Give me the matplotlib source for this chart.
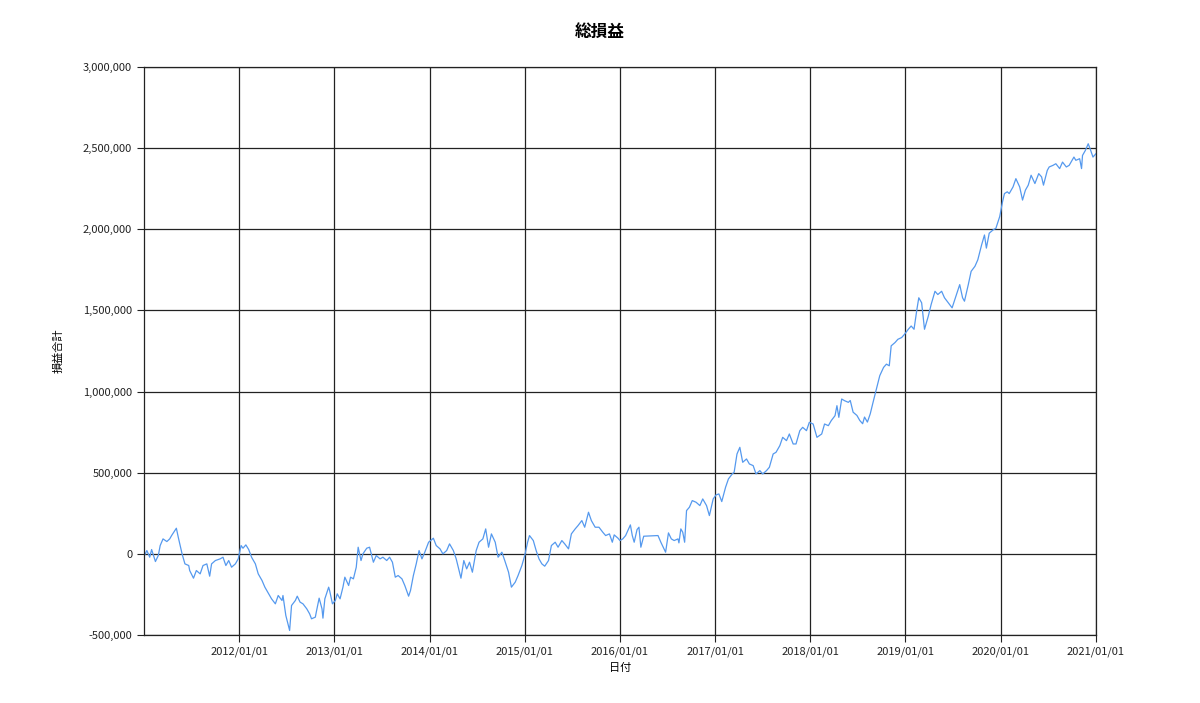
import numpy as np
import matplotlib
matplotlib.use("Agg")
import matplotlib.pyplot as plt
import matplotlib.dates as mdates
from matplotlib.ticker import FuncFormatter, FixedLocator
from datetime import datetime

plt.rcParams['font.family'] = ['Noto Sans CJK JP', 'DejaVu Sans']

# 日付 (decimal year) / 損益合計 (yen)
years = [
    2011.00, 2011.03, 2011.06, 2011.08, 2011.12, 2011.15, 2011.17, 2011.20, 2011.24, 2011.27,
    2011.29, 2011.34, 2011.36, 2011.40, 2011.43, 2011.47, 2011.48, 2011.52, 2011.55, 2011.59,
    2011.62, 2011.66, 2011.69, 2011.71, 2011.75, 2011.80, 2011.83, 2011.86, 2011.89, 2011.92,
    2011.96, 2011.99, 2012.02, 2012.04, 2012.07, 2012.10, 2012.13, 2012.17, 2012.20, 2012.24,
    2012.27, 2012.31, 2012.34, 2012.38, 2012.41, 2012.45, 2012.46, 2012.49, 2012.53, 2012.55,
    2012.59, 2012.61, 2012.64, 2012.67, 2012.71, 2012.74, 2012.76, 2012.80, 2012.81, 2012.84,
    2012.87, 2012.88, 2012.90, 2012.94, 2012.95, 2012.98, 2013.01, 2013.03, 2013.06, 2013.09,
    2013.11, 2013.15, 2013.17, 2013.20, 2013.23, 2013.25, 2013.28, 2013.30, 2013.34,
    2013.37, 2013.41, 2013.44, 2013.48, 2013.51, 2013.55, 2013.58, 2013.61, 2013.64, 2013.67,
    2013.71, 2013.74, 2013.78, 2013.80, 2013.83, 2013.86, 2013.89, 2013.92, 2013.95, 2013.99,
    2014.04, 2014.07, 2014.11, 2014.14, 2014.18, 2014.21, 2014.25, 2014.28, 2014.33, 2014.36,
    2014.39, 2014.42, 2014.45, 2014.49, 2014.52, 2014.56, 2014.59, 2014.62, 2014.65, 2014.69,
    2014.72, 2014.76, 2014.79, 2014.83, 2014.86, 2014.90, 2014.93, 2014.97, 2015.00, 2015.03,
    2015.05, 2015.09, 2015.12, 2015.15, 2015.18, 2015.21, 2015.25, 2015.28, 2015.32, 2015.35,
    2015.39, 2015.42, 2015.46, 2015.49, 2015.53, 2015.56, 2015.60, 2015.63, 2015.67, 2015.70,
    2015.74,
    2015.78, 2015.82, 2015.85, 2015.89, 2015.92, 2015.94, 2015.98, 2016.00, 2016.03, 2016.06,
    2016.11, 2016.13, 2016.15, 2016.18, 2016.20, 2016.22, 2016.25, 2016.40, 2016.43, 2016.48,
    2016.51, 2016.54, 2016.57, 2016.61, 2016.62, 2016.64, 2016.66, 2016.68, 2016.70, 2016.73,
    2016.76, 2016.80, 2016.84, 2016.87, 2016.91, 2016.94, 2016.98, 2017.01, 2017.04, 2017.07,
    2017.11, 2017.14, 2017.18, 2017.20, 2017.23, 2017.26, 2017.29, 2017.33, 2017.36, 2017.40,
    2017.43, 2017.47, 2017.50, 2017.54, 2017.57, 2017.61, 2017.64, 2017.68, 2017.71, 2017.75,
    2017.78, 2017.82, 2017.85, 2017.89, 2017.92, 2017.96, 2017.99, 2018.03, 2018.07, 2018.12,
    2018.15, 2018.19, 2018.22, 2018.26, 2018.28, 2018.30, 2018.33, 2018.36, 2018.40,
    2018.42, 2018.45, 2018.49, 2018.52, 2018.55, 2018.57, 2018.60, 2018.63, 2018.66, 2018.70,
    2018.73, 2018.77, 2018.80, 2018.83, 2018.85, 2018.89, 2018.92, 2018.96, 2018.99, 2019.03,
    2019.06, 2019.09, 2019.12, 2019.14, 2019.17, 2019.20, 2019.24, 2019.27, 2019.31, 2019.34,
    2019.38, 2019.41, 2019.45, 2019.49, 2019.53, 2019.57, 2019.60, 2019.62, 2019.66, 2019.69,
    2019.73, 2019.76, 2019.80, 2019.83, 2019.85, 2019.88, 2019.92, 2019.95, 2019.99, 2020.02,
    2020.04, 2020.07, 2020.09, 2020.13, 2020.16, 2020.20, 2020.23, 2020.26, 2020.29, 2020.32,
    2020.36, 2020.40, 2020.43, 2020.45, 2020.49, 2020.51, 2020.55, 2020.58, 2020.62, 2020.65,
    2020.69, 2020.72, 2020.77, 2020.79, 2020.83, 2020.85, 2020.86, 2020.89, 2020.92, 2020.94,
    2020.97, 2021.00,
]
pnl = [
    -15000, 20500, -20500, 26700, -47200, -10300, 51300, 92300, 75900, 92300,
    112900, 158000, 102600, 0, -61600, -71800, -102600, -149800, -102600, -123100,
    -71800, -61600, -137500, -61600, -41000, -30800, -20500, -71800, -41000, -82100,
    -61600, -30800, 51300, 34900, 55400, 26700, -20500, -61600, -123100, -164200,
    -205200, -246200, -277000, -307800, -256500, -287300, -256500, -379600, -472000, -318100,
    -287300, -260600, -297500, -307800, -338600, -369400, -400100, -389900, -359100, -272900,
    -338600, -396000, -277000, -205200, -225700, -307800, -287300, -246200, -277000, -205200,
    -143600, -194900, -143600, -153900, -82100, 41000, -41000, 0, 34900,
    41000, -51300, -10300, -30800, -20500, -41000, -20500, -51300, -143600, -133400,
    -153900, -194900, -260600, -225700, -133400, -61600, 20500, -30800, 10300, 71800,
    96400, 51300, 30800, 0, 20500, 61600, 20500, -30800, -149800, -41000,
    -92300, -51300, -112900, 20500, 71800, 92300, 153900, 41000, 123100, 71800,
    -20500, 10300, -41000, -112900, -205200, -174400, -133400, -71800, -10300, 71800,
    112900, 82100, 20500, -30800, -61600, -75900, -41000, 51300, 71800, 41000,
    82100, 61600, 30800, 123100, 153900, 174400, 205200, 164200, 256500, 205200,
    164200,
    164200, 133400, 112900, 123100, 71800, 117000, 96400, 82100, 92300, 112900,
    178500, 112900, 71800, 149800, 164200, 41000, 108800, 112900, 71800, 10300,
    129300, 92300, 82100, 92300, 67700, 153900, 133400, 71800, 266800, 287300,
    328300, 318100, 297500, 338600, 297500, 236000, 338600, 363200, 369400, 322200,
    410400, 461700, 492500, 502700, 615600, 656600, 564300, 584800, 554000, 543800,
    492500, 513000, 492500, 513000, 533500, 615600, 625900, 666900, 718200, 697700,
    738700, 677200, 677200, 759200, 779800, 759200, 810500, 800300, 718200, 738700,
    800300, 790000, 820800, 851600, 913100, 841300, 954200, 943900, 933700,
    945000, 873000, 853000, 822000, 802000, 843000, 812000, 863000, 935000, 1027000,
    1098000, 1149000, 1169000, 1159000, 1282000, 1302000, 1322000, 1333000, 1353000, 1384000,
    1404000, 1384000, 1506000, 1578000, 1547000, 1384000, 1465000, 1537000, 1618000, 1598000,
    1618000, 1578000, 1547000, 1516000, 1588000, 1659000, 1578000, 1557000, 1659000, 1741000,
    1772000, 1812000, 1904000, 1965000, 1884000, 1976000, 1996000, 2006000, 2078000, 2170000,
    2220000, 2231000, 2220000, 2261000, 2312000, 2261000, 2180000, 2241000, 2272000, 2333000,
    2282000, 2343000, 2323000, 2272000, 2363000, 2384000, 2394000, 2404000, 2374000, 2414000,
    2384000, 2394000, 2445000, 2425000, 2435000, 2374000, 2455000, 2486000, 2527000, 2496000,
    2445000, 2465000,
]

tick_years = list(range(2012, 2022))

start = mdates.date2num(datetime(2011, 1, 1))
x = start + (np.array(years) - 2011) * 365.25

fig = plt.figure(figsize=(12, 7.03), dpi=100)
ax = fig.add_axes([0.12, 0.0967, 0.7933, 0.808])

ax.plot(x, pnl, color='#5599ee', lw=0.9)

ax.set_xlim(start, mdates.date2num(datetime(2021, 1, 1)))
ax.set_ylim(-500000, 3000000)
ax.xaxis.set_major_locator(FixedLocator([mdates.date2num(datetime(y, 1, 1)) for y in tick_years]))
ax.xaxis.set_major_formatter(mdates.DateFormatter('%Y/%m/%d'))
ax.set_yticks(np.arange(-500000, 3000001, 500000))
ax.yaxis.set_major_formatter(FuncFormatter(lambda v, p: f'{int(v):,}'))

ax.grid(True, color='#222222', lw=0.9)
for s in ax.spines.values():
    s.set_color('#222222')
    s.set_linewidth(0.9)
ax.tick_params(axis='both', labelsize=8, length=5, color='#222222', labelcolor='#222222')

ax.set_xlabel('日付', fontsize=8, labelpad=4)
ax.set_ylabel('損益合計', fontsize=8, labelpad=14)
fig.suptitle('総損益', fontsize=12, fontweight='bold', y=0.968, x=0.5)

fig.savefig('out.png', dpi=100)
